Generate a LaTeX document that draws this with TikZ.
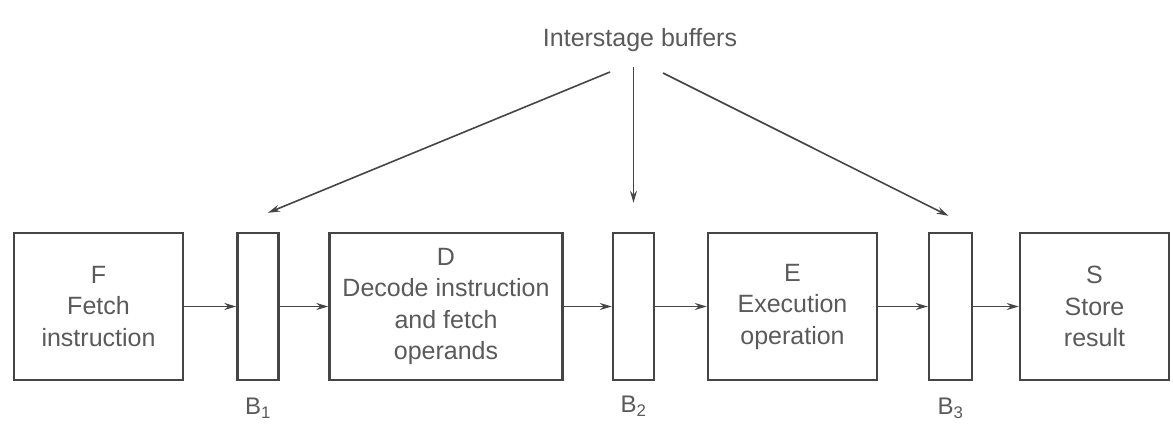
\documentclass[tikz,border=0pt]{standalone}
\usepackage{fontspec}
\setmainfont{Liberation Sans}
\usetikzlibrary{arrows.meta}
\definecolor{ink}{HTML}{454545}
\definecolor{txt}{HTML}{5a5a5a}
\begin{document}
\begin{tikzpicture}[x=1pt,y=-1pt,
  stagebox/.style={draw=ink,line width=2.4pt,minimum height=147pt,inner sep=0pt,align=center,
    text=txt,font=\fontsize{25}{31.5}\selectfont},
  buf/.style={draw=ink,line width=2.4pt,minimum height=147pt,inner sep=0pt},
  lbl/.style={text=txt,font=\fontsize{24}{28}\selectfont},
  conn/.style={draw=ink,line width=1.6pt,-{Stealth[length=12pt,width=7pt]}}]
\useasboundingbox (0,0) rectangle (1173,430);
\node[stagebox,minimum width=169pt] (F) at (98.5,306.5) {F\\Fetch\\instruction};
\node[buf,minimum width=41pt] (B1) at (258,306.5) {};
\node[stagebox,minimum width=233pt] (D) at (446,306.5) {D\\Decode instruction\\and fetch\\operands};
\node[buf,minimum width=41pt] (B2) at (633.5,306.5) {};
\node[stagebox,minimum width=169pt] (E) at (792.5,306.5) {E\\Execution\\operation};
\node[buf,minimum width=43pt] (B3) at (950.5,306.5) {};
\node[stagebox,minimum width=149pt] (S) at (1094.5,306.5) {S\\Store\\result};
\node[lbl] (L1) at (258,408) {B\textsubscript{1}};
\node[lbl] (L2) at (633.5,406) {B\textsubscript{2}};
\node[lbl] (L3) at (950.5,408) {B\textsubscript{3}};
\node[lbl,font=\fontsize{25}{28}\selectfont] (T) at (640,40) {Interstage buffers};
\coordinate (s1) at (610,72);
\coordinate (s2) at (633.5,67);
\coordinate (s3) at (663,73);
\draw[conn] (s1) -- ([shift={(10,-19)}]B1.north);
\draw[conn] (s2) -- ([shift={(0,-29)}]B2.north);
\draw[conn] (s3) -- ([shift={(-2,-16)}]B3.north);
\draw[conn] (F.east) -- (B1.west);
\draw[conn] (B1.east) -- (D.west);
\draw[conn] (D.east) -- (B2.west);
\draw[conn] (B2.east) -- (E.west);
\draw[conn] (E.east) -- (B3.west);
\draw[conn] (B3.east) -- (S.west);
\end{tikzpicture}
\end{document}
